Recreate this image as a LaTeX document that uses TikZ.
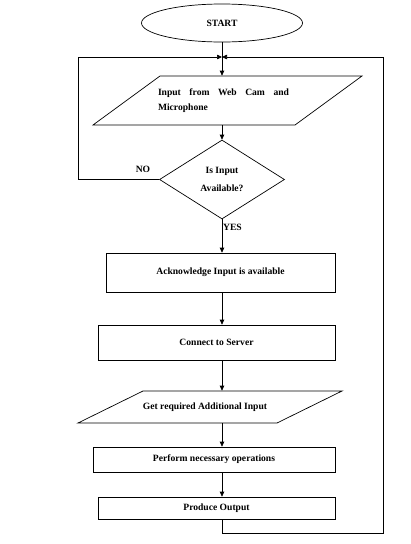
\documentclass[tikz,border=0pt]{standalone}
\usepackage{fontspec}
\setmainfont{Liberation Serif}
\usetikzlibrary{arrows.meta,shapes.geometric}

\begin{document}
\begin{tikzpicture}[x=1pt, y=1pt, >={Triangle[length=5pt, width=4.5pt]}, line width=0.7pt,
    font=\fontsize{9.6}{11.5}\selectfont\bfseries,
    stepbox/.style={draw, rectangle, inner sep=0pt},
    iotext/.style={rectangle, inner sep=0pt}]
    \useasboundingbox (0,0) rectangle (411,-544);
    % Start and first input
    \node [draw, ellipse, minimum width=161pt, minimum height=38pt, inner sep=0pt] (start) at (222,-23) {START};
    \draw (160,-76) -- (362,-76) -- (295,-125) -- (93,-125) -- cycle;
    \node [iotext, text width=131pt, align=justify, minimum height=49pt,
        font=\fontsize{9.6}{15}\selectfont\bfseries] (webcam) at (223.5,-100.5) {Input from Web Cam and \mbox{Microphone}};
    
    % Decision
    \node [draw, diamond, aspect=1.58, minimum width=125pt, minimum height=79pt, inner sep=0pt, align=center,
        font=\fontsize{9.6}{18}\selectfont\bfseries] (check) at (222,-179.5) {Is Input\\Available?};
    \node (no) at (143,-169) {NO};
    \node (yes) at (232.5,-227) {YES};
    
    % Process steps
    \node [stepbox, minimum width=229pt, minimum height=39pt] (ack) at (220.5,-272.5) {Acknowledge Input is available};
    \node [stepbox, minimum width=237pt, minimum height=35pt] (server) at (216.5,-342.5) {Connect to Server};
    \draw (143,-391) -- (342,-391) -- (277,-423) -- (78,-423) -- cycle;
    \node [iotext, minimum height=32pt] (extra) at (205,-407) {Get required Additional Input};
    \node [stepbox, minimum width=242pt, minimum height=25pt] (perform) at (214,-459.5) {Perform necessary operations};
    \node [stepbox, minimum width=237pt, minimum height=22pt] (output) at (216.5,-508) {Produce Output};
    
    % Flow arrows
    \coordinate (merge) at (222,-57);
    \coordinate (loopL) at (78,-57);
    \coordinate (loopR) at (383,-57);
    \coordinate (loopB) at (383,-533);
    \draw [->] (start.south) -- (start.south |- webcam.north);
    \draw [->] (start.south |- webcam.south) -- (check.north);
    \draw [->] (check.south) -- (check.south |- ack.north);
    \draw [->] (check.south |- ack.south) -- (check.south |- server.north);
    \draw [->] (check.south |- server.south) -- (check.south |- extra.north);
    \draw [->] (check.south |- extra.south) -- (check.south |- perform.north);
    \draw [->] (check.south |- perform.south) -- (check.south |- output.north);
    
    % Loops back to the input
    \draw [->] (check.west) -| (loopL) -- (merge);
    \draw [->] (check.south |- output.south) |- (loopB) -- (loopR) -- (merge);
\end{tikzpicture}
\end{document}
